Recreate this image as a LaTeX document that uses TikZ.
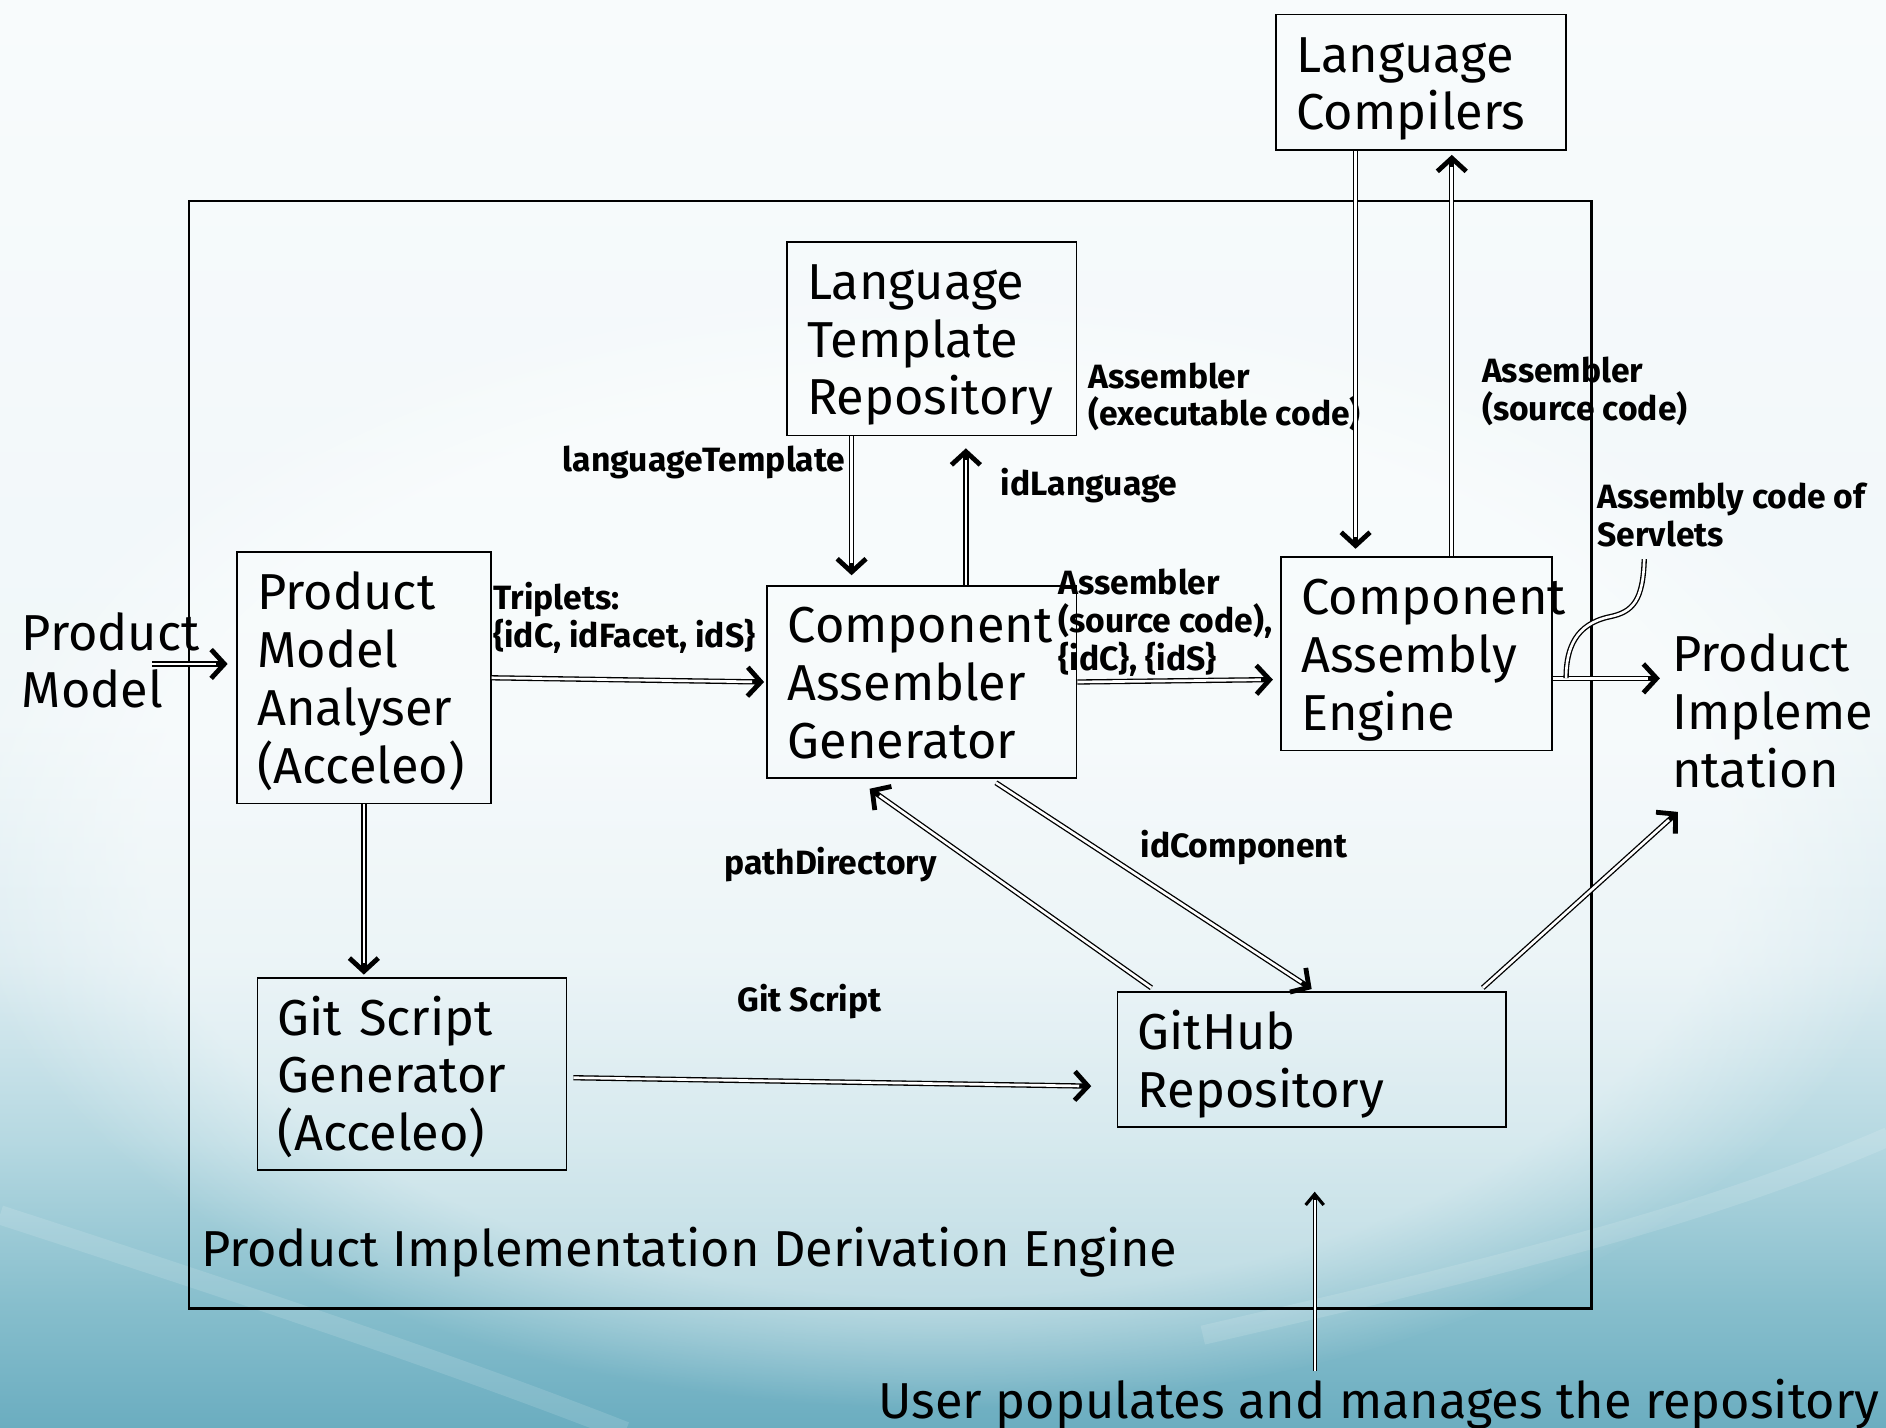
\documentclass[tikz,border=0pt]{standalone}
\usepackage{fontspec}
\setmainfont{Fira Sans}
\usetikzlibrary{arrows.meta,calc,fadings}
\definecolor{bgA}{HTML}{F8FBFC}
\definecolor{bgB}{HTML}{F0F7F9}
\definecolor{bgC}{HTML}{DCECF1}
\definecolor{bgD}{HTML}{B5D8E1}
\definecolor{bgE}{HTML}{88BFCD}
\definecolor{bgF}{HTML}{6BADC0}
\newcommand{\mainsz}{\fontsize{42}{48}\selectfont\hyphenpenalty=10000\relax}
\newcommand{\lblsz}{\fontsize{28}{31.5}\selectfont\bfseries}
\newcommand{\tS}{\rule{0pt}{43pt}}
\newcommand{\bS}{\rule[-12pt]{0pt}{12pt}}
\begin{document}
\begin{tikzpicture}[x=1pt,y=-1pt,
  box/.style={draw=black, line width=1.5pt, inner xsep=17pt, inner ysep=0pt, align=left, font=\mainsz},
  plain/.style={inner sep=0pt, align=left, anchor=west, font=\mainsz},
  lbl/.style={inner sep=0pt, align=left, anchor=west, font=\lblsz},
  dbl/.style={draw=black, line width=1.1pt, double=white, double distance=2.2pt},
  arr/.style={draw=white, line width=2.2pt, shorten >=10pt,
    preaction={draw=black, line width=4.4pt, shorten >=0pt, -{Straight Barb[length=11pt,width=24pt,line width=4pt]}}},
  thinarr/.style={draw=white, line width=1.6pt, shorten >=7pt,
    preaction={draw=black, line width=3.2pt, shorten >=0pt, -{Straight Barb[length=9pt,width=15pt,line width=2.6pt]}}}
]
% background
\useasboundingbox (0,0) rectangle (1568,1187);
\shade[top color=bgA, bottom color=bgB] (0,0) rectangle (1568,601);
\shade[top color=bgB, bottom color=bgC] (0,600) rectangle (1568,801);
\shade[top color=bgC, bottom color=bgD] (0,800) rectangle (1568,951);
\shade[top color=bgD, bottom color=bgE] (0,950) rectangle (1568,1081);
\shade[top color=bgE, bottom color=bgF] (0,1080) rectangle (1568,1187);
\fill[white, opacity=0.45, path fading=circle with fuzzy edge 20 percent] (780,700) ellipse [x radius=820, y radius=470];
\draw[white, opacity=0.13, line width=16pt] (0,1010) .. controls (200,1075) and (380,1135) .. (520,1190);
\draw[white, opacity=0.13, line width=16pt] (1570,945) .. controls (1420,1010) and (1260,1050) .. (1000,1110);

% outer engine box
\node[draw=black, line width=2pt, minimum width=1166pt, minimum height=921pt, inner sep=0pt] (pide) at (740,627.5) {};
\node[plain] (pidelbl) at (167,1041) {Product Implementation Derivation Engine};

% boxes
\node[box, minimum height=113pt, text width=207pt] (lc) at (1181.5,68.5) {\tS Language\\Compilers\bS};
\node[box, minimum height=161pt, text width=207pt] (ltr) at (774.5,281.5) {\tS Language\\Template\\Repository\bS};
\node[box, minimum height=209pt, text width=177pt] (pma) at (302.5,563.5) {\tS Product\\Model\\Analyser\\(Acceleo)\bS};
\node[box, minimum height=160pt, text width=223pt] (cag) at (766.5,567) {\tS Component\\Assembler\\Generator\bS};
\node[box, minimum height=161pt, text width=191pt] (cae) at (1177.5,543.5) {\tS Component\\Assembly\\Engine\bS};
\node[box, minimum height=160pt, text width=223pt] (gsg) at (342.5,893) {\tS Git Script\\Generator\\(Acceleo)\bS};
\node[box, minimum height=112pt, text width=289pt] (gh) at (1090.5,881) {\tS GitHub\\Repository\bS};

% free texts
\node[plain] (pm) at (18,549) {Product\\Model};
\node[plain] (pi) at (1390,591) {Product\\Impleme\\ntation};
\node[plain] (user) at (730,1167) {User populates and manages the repository};

% labels
\node[lbl] (lexe) at (905,330) {Assembler\\(executable code)};
\node[lbl] (lsrc) at (1232,325.5) {Assembler\\(source code)};
\node[lbl] (lserv) at (1328,428) {Assembly code of\\Servlets};
\node[lbl, anchor=east] (llt) at (703,384.5) {languageTemplate};
\node[lbl] (lidl) at (832,403.5) {idLanguage};
\node[lbl] (ltrip) at (410,514) {Triplets:\\\{idC, idFacet, idS\}};
\node[lbl] (lasm) at (880,517.5) {Assembler\\(source code),\\\{idC\}, \{idS\}};
\node[lbl] (lpath) at (602,718.5) {pathDirectory};
\node[lbl] (lidc) at (948,704.5) {idComponent};
\node[lbl] (lgit) at (613,832.5) {Git Script};

% connectors
\draw[arr] ($(pm.east)+(-40,3)$) -- ($(pma.west)+(-7,-11.5)$);
\draw[arr] (pma.east) -- ($(cag.west)+(-2,0)$);
\draw[arr] (pma.south) -- ($(pma.south |- gsg.north)+(0,-2)$);
\coordinate (s4) at ($(ltr.south)+(-66.5,0)$);
\draw[arr] (s4) -- ($(s4 |- cag.north)+(0,-8)$);
\coordinate (s5) at ($(cag.north)+(36.5,0)$);
\draw[arr] (s5) -- ($(s5 |- ltr.south)+(0,10)$);
\draw[arr] (cag.east) -- ($(cae.west)+(-6,21.5)$);
\coordinate (s7) at ($(lc.south)+(-54.5,0)$);
\draw[arr] (s7) -- ($(s7 |- cae.north)+(0,-6)$);
\coordinate (s8) at ($(cae.north)+(29.5,0)$);
\draw[arr] (s8) -- ($(s8 |- lc.south)+(0,3)$);
\coordinate (s9) at ($(cae.east)+(0,20.5)$);
\draw[arr] (s9) -- ($(pi.west |- s9)+(-10,0)$);
\coordinate (s10) at ($(lserv.south west)+(39,10)$);
\draw[dbl] (s10) .. controls ($(s10)+(-1,34)$) and ($(s10)+(-9,44)$) .. ($(s10)+(-29,48)$)
  .. controls ($(s10)+(-57,54)$) and ($(s10)+(-65,74)$) .. ($(s10)+(-65,99)$);
\draw[arr] ($(cag.south)+(61.5,3)$) -- ($(gh.north)+(0,-2)$);
\draw[arr] ($(gh.north west)+(29,-3)$) -- ($(cag.south)+(-43.5,8)$);
\draw[arr] ($(gsg.east)+(5,3)$) -- ($(gh.west)+(-21,22)$);
\draw[arr] ($(gh.north east)+(-20,-3)$) -- ($(pi.west)+(5,84)$);
\draw[thinarr] ($(user.north -| gh.south)+(2.5,-6)$) -- ($(gh.south)+(2.5,53)$);
\end{tikzpicture}
\end{document}
